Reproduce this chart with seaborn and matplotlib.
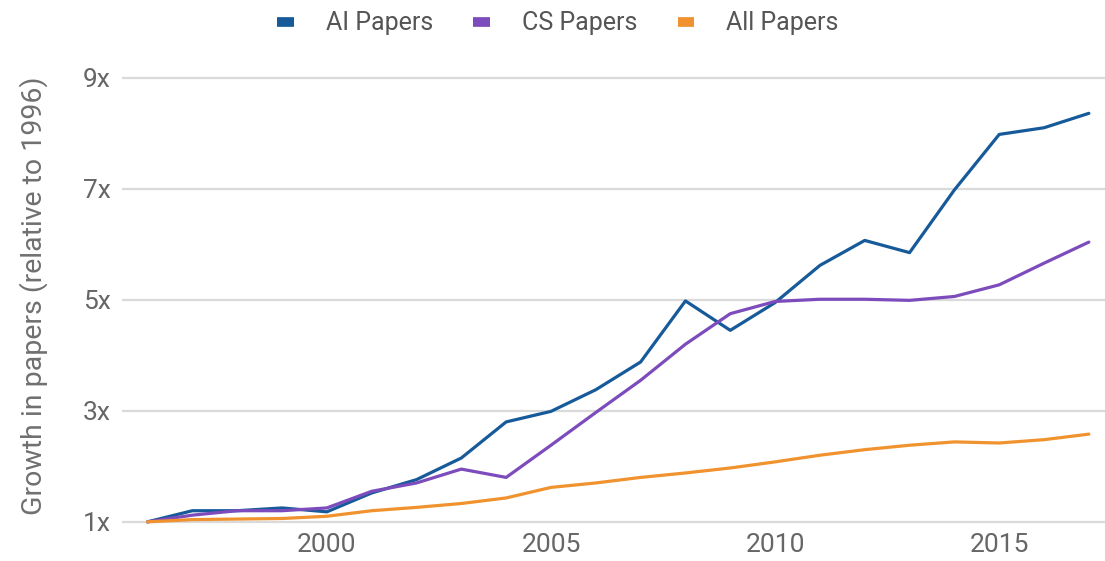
import pandas as pd
import numpy as np
import seaborn as sns
import matplotlib.pyplot as plt


# values (growth relative to 1996)
years = list(range(1996, 2018))
ai_papers = [1.0, 1.2, 1.2, 1.25, 1.18, 1.52, 1.76, 2.15, 2.8, 2.99, 3.38, 3.88,
             4.98, 4.45, 4.95, 5.62, 6.07, 5.85, 6.98, 7.98, 8.1, 8.36]
cs_papers = [1.0, 1.12, 1.2, 1.2, 1.25, 1.55, 1.7, 1.95, 1.8, 2.38, 2.97, 3.55,
             4.2, 4.75, 4.97, 5.01, 5.01, 4.99, 5.06, 5.27, 5.66, 6.04]
all_papers = [1.0, 1.04, 1.05, 1.06, 1.1, 1.2, 1.26, 1.33, 1.43, 1.62, 1.7, 1.8,
              1.88, 1.97, 2.08, 2.2, 2.3, 2.38, 2.44, 2.42, 2.48, 2.58]
series_names = ["AI Papers", "CS Papers", "All Papers"]
tick_years = [2000, 2005, 2010, 2015]
y_ticks = [1, 3, 5, 7, 9]

df = pd.DataFrame({
    "year": years * 3,
    "growth": ai_papers + cs_papers + all_papers,
    "series": np.repeat(series_names, len(years)),
})

colors = {"AI Papers": "#175a9a", "CS Papers": "#7d4cbc", "All Papers": "#f0922e"}

sns.set_style("white")
plt.rcParams["font.family"] = ["Roboto", "DejaVu Sans"]

fig = plt.figure(figsize=(11.05, 5.61), dpi=100)
ax = fig.add_axes([0.110, 0.055, 0.89, 0.836])

sns.lineplot(data=df, x="year", y="growth", hue="series", palette=colors,
             hue_order=series_names, linewidth=2.3, ax=ax, legend=False)

ax.set_xlim(1995.42, 2017.36)
ax.set_ylim(0.85, 9.3)
ax.set_xticks(tick_years)
ax.set_xticklabels([str(t) for t in tick_years])
ax.set_yticks(y_ticks)
ax.set_yticklabels([f"{t}x" for t in y_ticks])
ax.grid(axis="y", color="#dadada", linewidth=1.6)
ax.set_axisbelow(True)
for s in ax.spines.values():
    s.set_visible(False)
ax.tick_params(axis="both", length=0, labelsize=19, colors="#666666")
ax.tick_params(axis="x", pad=2)
ax.tick_params(axis="y", pad=8)
ax.set_xlabel("")
ax.set_ylabel("Growth in papers (relative to 1996)", fontsize=20.5,
              color="#707070", labelpad=25)

handles = [plt.Line2D([0], [0], color=colors[n], linewidth=7, solid_capstyle="butt")
           for n in series_names]
fig.legend(handles, series_names, loc="upper center", bbox_to_anchor=(0.505, 1.02),
           ncol=3, frameon=False, fontsize=18, handlelength=0.65,
           handletextpad=1.3, columnspacing=1.6, labelcolor="#555555")

fig.savefig("out.png", dpi=100)
